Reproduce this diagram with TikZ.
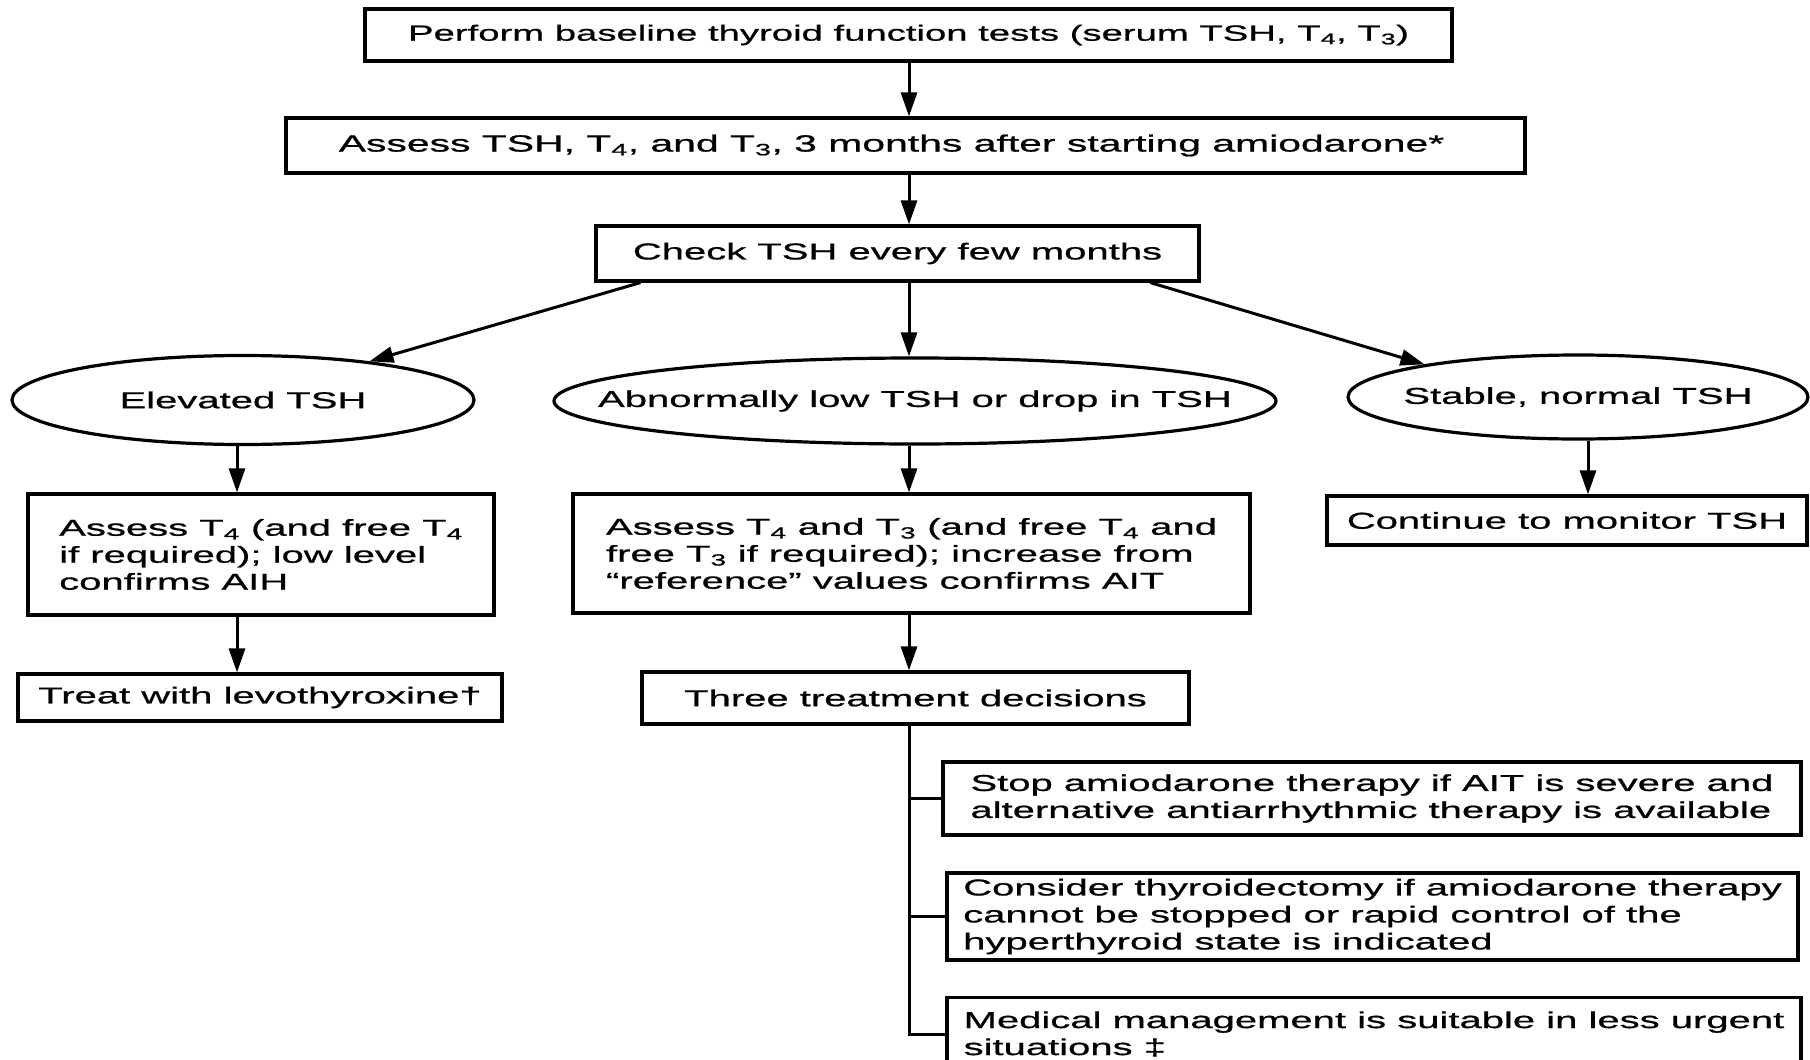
\documentclass[tikz,border=0pt]{standalone}
\usepackage{fontspec}
\setmainfont{Liberation Sans}[FakeStretch=1.74,FakeBold=0.8]
\usetikzlibrary{arrows.meta,shapes.geometric,calc}
\newcommand{\tsub}[1]{\textsubscript{#1}}
\begin{document}
\begin{tikzpicture}[x=1pt,y=-1pt,
  font=\fontsize{23}{27}\selectfont,
  box/.style={draw, rectangle, line width=3.2pt, inner sep=0pt, align=left},
  ell/.style={draw, ellipse, line width=3.2pt, inner sep=0pt},
  ln/.style={line width=3pt},
  arr/.style={line width=3pt, -{Triangle[length=24pt,width=16pt]}}]
\useasboundingbox (0,0) rectangle (1810,1060);
\fill[white] (0,0) rectangle (1810,1060);
% spine / column coordinates
\coordinate (sp) at (909,0);
\coordinate (lc) at (237,0);
\coordinate (rc) at (1588,0);
% top chain
\node[box, minimum width=1087pt, minimum height=52pt, font=\fontsize{22}{26}\selectfont] (b1) at (908.5,35)
  {Perform baseline thyroid function tests (serum TSH, T\tsub{4}, T\tsub{3})};
\node[box, minimum width=1239pt, minimum height=55pt, font=\fontsize{23.5}{27}\selectfont] (b2) at (905.5,145.5)
  {Assess TSH, T\tsub{4}, and T\tsub{3}, 3 months after starting amiodarone*\hspace*{28pt}};
\node[box, minimum width=603pt, minimum height=55pt] (b3) at (897.5,253.5)
  {Check TSH every few months};
% ellipses
\node[ell, minimum width=462pt, minimum height=89pt] (eL) at (243,400) {};
\node (eLt) at (eL.center) {Elevated TSH};
\node[ell, minimum width=722pt, minimum height=86pt] (eM) at (915,401) {};
\node (eMt) at (eM.center) {Abnormally low TSH or drop in TSH};
\node[ell, minimum width=460pt, minimum height=84pt] (eR) at (1578,397) {};
\node (eRt) at (eR.center) {Stable, normal TSH};
% second level boxes
\node[box, minimum width=466pt, minimum height=121pt] (bL) at (261,554.5)
  {Assess T\tsub{4} (and free T\tsub{4}\\if required); low level\\confirms AIH};
\node[box, minimum width=677pt, minimum height=119pt] (bM) at (911.5,553.5)
  {Assess T\tsub{4} and T\tsub{3} (and free T\tsub{4} and\\free T\tsub{3} if required); increase from\\“reference” values confirms AIT};
\node[box, minimum width=480pt, minimum height=49pt] (bR) at (1567,520.5)
  {Continue to monitor TSH};
% third level
\node[box, minimum width=484pt, minimum height=47pt] (bT) at (260,697.5)
  {Treat with levothyroxine†};
\node[box, minimum width=547pt, minimum height=52pt] (b3d) at (915.5,698)
  {Three treatment decisions};
% decisions
\node[box, minimum width=858pt, minimum height=73pt] (d1) at (1372,798.5)
  {Stop amiodarone therapy if AIT is severe and\\alternative antiarrhythmic therapy is available};
\node[box, minimum width=851pt, minimum height=87pt] (d2) at (1372.5,916.5)
  {Consider thyroidectomy if amiodarone therapy\\cannot be stopped or rapid control of the\\hyperthyroid state is indicated};
\node[box, minimum width=854pt, minimum height=73pt] (d3) at (1374,1034)
  {Medical management is suitable in less urgent\\situations ‡\hphantom{ in less urgent management is}};
% arrows
\draw[arr] (b1.south -| sp) -- (b2.north -| sp);
\draw[arr] (b2.south -| sp) -- (b3.north -| sp);
\draw[arr] (b3.south -| sp) -- (eM.north -| sp);
\draw[arr] ($(b3.south west)!0.076!(b3.south east)$) -- (eL.17);
\draw[arr] ($(b3.south west)!0.917!(b3.south east)$) -- (eR.168);
\draw[arr] (eL.south -| lc) -- (bL.north -| lc);
\draw[arr] (bL.south -| lc) -- (bT.north -| lc);
\draw[arr] (eM.south -| sp) -- (bM.north -| sp);
\draw[arr] (bM.south -| sp) -- (b3d.north -| sp);
\draw[arr] (eR.south -| rc) -- (bR.north -| rc);
% tree
\draw[ln] (b3d.south -| sp) -- (d3.west -| sp) -- (d3.west);
\draw[ln] (d1.west -| sp) -- (d1.west);
\draw[ln] (d2.west -| sp) -- (d2.west);
\end{tikzpicture}
\end{document}
